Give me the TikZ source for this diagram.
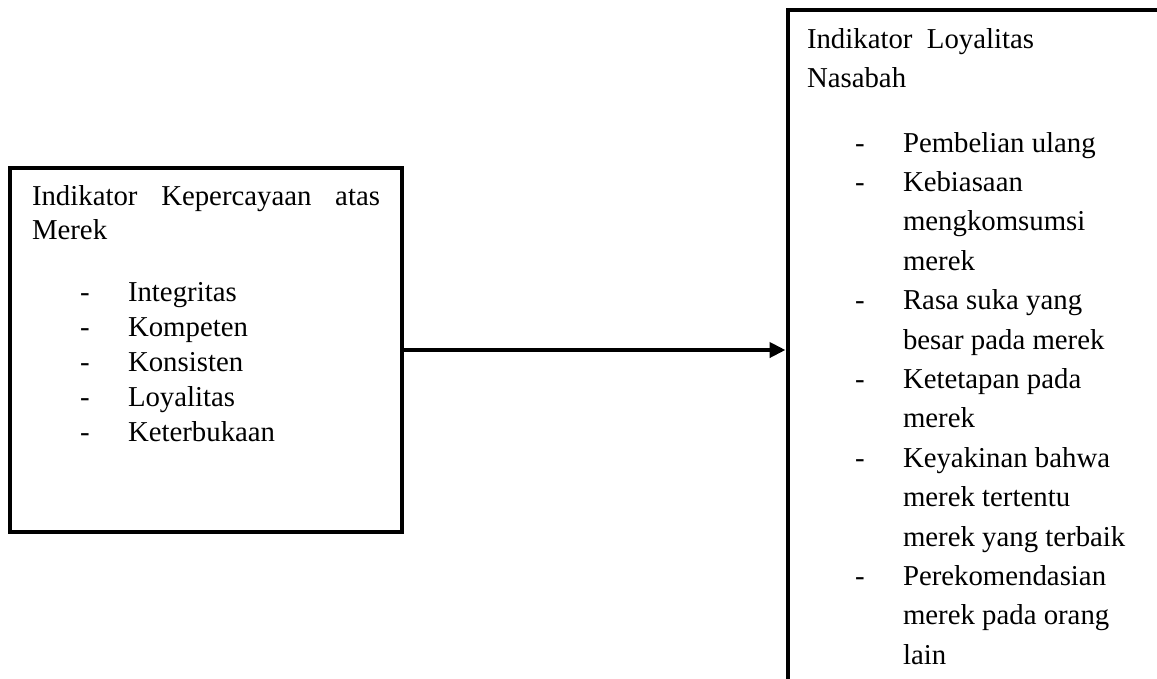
\documentclass[tikz,border=0pt]{standalone}
\usepackage{fontspec}
\setmainfont{Liberation Serif}
\usetikzlibrary{arrows.meta}
\begin{document}
\begin{tikzpicture}[x=1pt,y=-1pt,
  boxline/.style={draw=black,line width=4pt,inner sep=0pt,fill=none},
  txt/.style={anchor=base west,inner sep=0pt,outer sep=0pt,font=\fontsize{28.8}{34}\selectfont},
  arr/.style={line width=4pt,-{Triangle[length=16pt,width=15pt]}}]
\useasboundingbox (0,0) rectangle (1157,678);
\fill[white] (0,0) rectangle (1157,678);
% boxes
\node[boxline,minimum width=392pt,minimum height=364pt] (lbox) at (206,350) {};
\node[boxline,anchor=north west,minimum width=500pt,minimum height=800pt] (rbox) at (785.5,8) {};
% connector
\draw[arr] (lbox.east) -- (lbox.east -| rbox.west);
% left box text
\node[txt] (lt1) at (32,205) {\makebox[348pt][s]{Indikator Kepercayaan atas}};
\node[txt] (lt2) at (32,239) {Merek};
\foreach \t [count=\i] in {Integritas,Kompeten,Konsisten,Loyalitas,Keterbukaan}{
  \node[txt] (ld\i) at (80,{301+(\i-1)*35}) {-};
  \node[txt] (li\i) at (128,{301+(\i-1)*35}) {\t};
}
% right box text
\node[txt] (rt1) at (807,48) {Indikator\ \ Loyalitas};
\node[txt] (rt2) at (807,87) {Nasabah};
\foreach \d/\t [count=\i] in {1/Pembelian ulang,1/Kebiasaan,0/mengkomsumsi,0/merek,1/Rasa suka yang,0/besar pada merek,1/Ketetapan pada,0/merek,1/Keyakinan bahwa,0/merek tertentu,0/merek yang terbaik,1/Perekomendasian,0/merek pada orang,0/lain}{
  \ifnum\d=1 \node[txt] (rd\i) at (855,{152+(\i-1)*39.4}) {-};\fi
  \node[txt] (ri\i) at (903,{152+(\i-1)*39.4}) {\t};
}
\end{tikzpicture}
\end{document}
